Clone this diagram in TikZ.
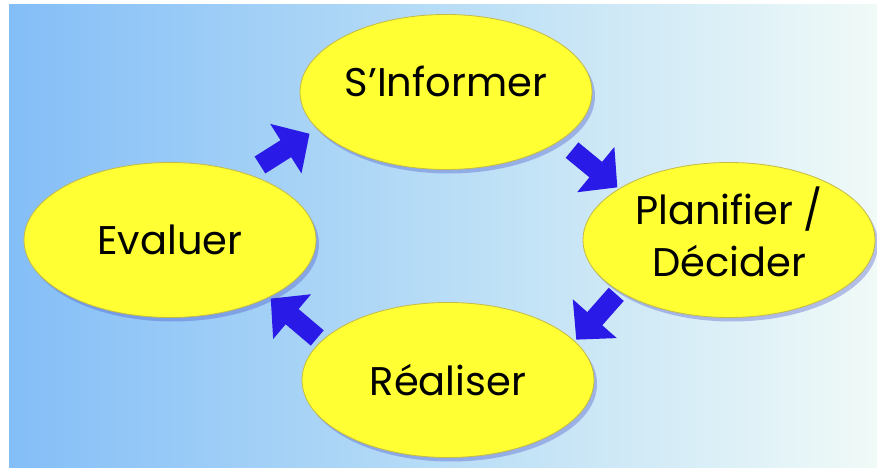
\documentclass[tikz,border=0pt]{standalone}
\usepackage{fontspec}
\setmainfont{Poppins}
\usetikzlibrary{positioning,shapes.geometric,arrows.meta,shadows}

\definecolor{skyleft}{RGB}{132,190,247}
\definecolor{skymid}{RGB}{184,221,246}
\definecolor{skyright}{RGB}{240,250,247}
\definecolor{phasefill}{RGB}{255,255,51}
\definecolor{phaseline}{RGB}{196,186,70}
\definecolor{flowblue}{RGB}{42,26,232}
\definecolor{shadowblue}{RGB}{70,80,200}

\tikzset{
  phase/.style={ellipse, draw=phaseline, line width=0.8pt, fill=phasefill,
    minimum width=292pt, minimum height=155pt, inner sep=0pt, align=center,
    font=\fontsize{40}{52}\selectfont,
    drop shadow={shadow xshift=3pt, shadow yshift=-4pt, fill=shadowblue, opacity=0.35}},
  flow/.style={draw=flowblue, line width=20pt, -{Triangle[width=57pt,length=28pt]}}
}

\begin{document}
\begin{tikzpicture}[x=1pt, y=1pt, on grid]
  \useasboundingbox (0,0) rectangle (877,470);
  % Background
  \shade[left color=skyleft, right color=skyright, middle color=skymid] (9,2) rectangle (877,465);
  % Define nodes
  \node[phase, text depth=22pt] (inf) at (446,378) {S'Informer};
  \node[phase, text depth=16pt, below right=148pt and 283pt of inf] (pla) {Planifier /\\Décider};
  \node[phase, below=288pt of inf, xshift=2pt] (rea) {Réaliser};
  \node[phase, below left=148pt and 276pt of inf] (eva) {Evaluer};
  % Connect the nodes
  \draw[flow, shorten <=16pt, shorten >=9pt] (eva.41.7) -- (inf.196.5); %
  \draw[flow, shorten <=15pt, shorten >=2pt] (inf.337.7) -- (pla.155.3); %
  \draw[flow, shorten <=4pt, shorten >=2pt] (pla.205.2) -- (rea.17.9); %
  \draw[flow, shorten <=5pt, shorten >=2pt] (rea.163.3) -- (eva.330.5); %
\end{tikzpicture}
\end{document}
